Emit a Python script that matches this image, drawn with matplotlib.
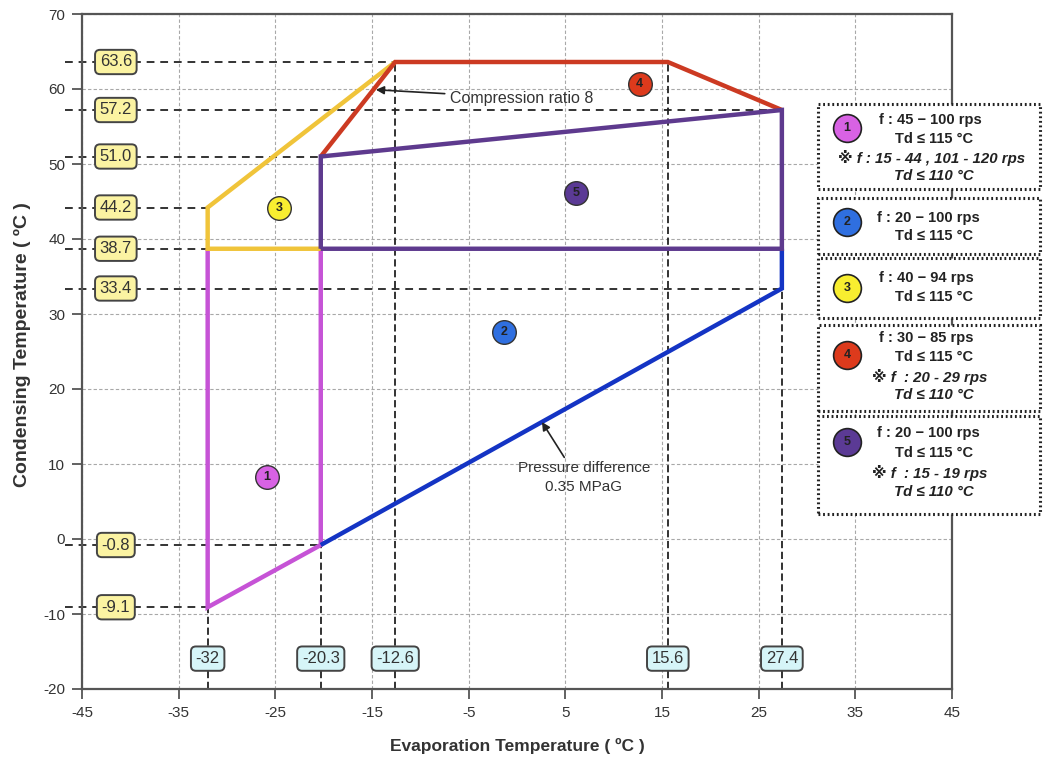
import matplotlib
matplotlib.use('Agg')
import matplotlib.pyplot as plt
from matplotlib.lines import Line2D
from matplotlib.patches import Rectangle

plt.rcParams['font.family'] = ['Liberation Sans', 'DejaVu Sans', 'Noto Sans CJK JP']
plt.rcParams['axes.unicode_minus'] = False

# ---------------- data ----------------
x_ticks = [-45, -35, -25, -15, -5, 5, 15, 25, 35, 45]
y_ticks = [-20, -10, 0, 10, 20, 30, 40, 50, 60, 70]

evap_marks = [-32, -20.3, -12.6, 15.6, 27.4]
evap_mark_labels = ['-32', '-20.3', '-12.6', '15.6', '27.4']
evap_mark_top = [-9.1, -0.8, 63.6, 63.6, 33.4]

cond_marks = [63.6, 57.2, 51.0, 44.2, 38.7, 33.4, -0.8, -9.1]
cond_mark_labels = ['63.6', '57.2', '51.0', '44.2', '38.7', '33.4', '-0.8', '-9.1']
cond_mark_end = [15.6, 27.4, -20.3, -32, -32, 27.4, -20.3, -32]

region1_x = [-32, -32, -20.3, -20.3]
region1_y = [38.7, -9.1, -0.8, 38.7]
region2_x = [-20.3, 27.4, 27.4]
region2_y = [-0.8, 33.4, 38.7]
region3_x = [-12.6, -32, -32, -20.3]
region3_y = [63.6, 44.2, 38.7, 38.7]
region4_x = [-20.3, -12.6, 15.6, 27.4]
region4_y = [51.0, 63.6, 63.6, 57.2]
region5_x = [-20.3, -20.3, 27.4, 27.4, -20.3]
region5_y = [38.7, 51.0, 57.2, 38.7, 38.7]

region_ids = ['1', '2', '3', '4', '5']
region_label_x = [-25.9, -1.3, -24.6, 12.7, 6.1]
region_label_y = [8.3, 27.6, 44.1, 60.7, 46.1]

legend_lines = [
    ['f : 45 − 100 rps', 'Td ≤ 115 °C', '※ f : 15 - 44 , 101 - 120 rps', 'Td ≤ 110 °C'],
    ['f : 20 − 100 rps', 'Td ≤ 115 °C'],
    ['f : 40 − 94 rps', 'Td ≤ 115 °C'],
    ['f : 30 − 85 rps', 'Td ≤ 115 °C', '※ f  : 20 - 29 rps', 'Td ≤ 110 °C'],
    ['f : 20 − 100 rps', 'Td ≤ 115 °C', '※ f  : 15 - 19 rps', 'Td ≤ 110 °C'],
]

# ---------------- styles ----------------
line_colors = ['#C653D6', '#1434C4', '#F0C43A', '#CC3A22', '#5E3A8E']
dot_colors = ['#D862E4', '#2F6FE0', '#F8EE30', '#DD3A1C', '#5B3A95']

W, H = 1043, 764
fig = plt.figure(figsize=(W / 100, H / 100), dpi=100)
ax = fig.add_axes([82 / W, 1 - 689 / H, 870 / W, 675 / H])

def fx(px):
    return px / W

def fy(py):
    return 1 - py / H

ax.set_xlim(-45, 45)
ax.set_ylim(-20, 70)
ax.set_xticks(x_ticks)
ax.set_yticks(y_ticks)
ax.grid(True, color='#a8a8a8', ls=(0, (3, 2)), lw=0.8)
ax.set_axisbelow(True)
ax.tick_params(direction='out', length=7, width=1.3, colors='#555', labelcolor='#333',
               labelsize=11, pad=5)
for sp in ax.spines.values():
    sp.set_color('#555')
    sp.set_linewidth(1.6)

# reference guide lines
for y, xe in zip(cond_marks, cond_mark_end):
    ax.plot([-46.8, xe], [y, y], color='#333', lw=1.4, ls=(0, (4, 3)), clip_on=False, zorder=2)
for x, ye in zip(evap_marks, evap_mark_top):
    ax.plot([x, x], [-20, ye], color='#222', lw=1.3, ls=(0, (4, 2)), zorder=2)

# region outlines
regions = [(region1_x, region1_y), (region2_x, region2_y), (region3_x, region3_y),
           (region4_x, region4_y), (region5_x, region5_y)]
for (xs, ys), c in zip(regions, line_colors):
    ax.plot(xs, ys, color=c, lw=3.2, solid_joinstyle='miter', solid_capstyle='butt', zorder=4)

# region number dots
for rid, x, y, c in zip(region_ids, region_label_x, region_label_y, dot_colors):
    ax.plot([x], [y], marker='o', ms=17, mfc=c, mec='#333', mew=1.0, zorder=6)
    ax.text(x, y, rid, ha='center', va='center', fontsize=9, fontweight='bold', color='#222', zorder=7)

# value labels
for y, lab in zip(cond_marks, cond_mark_labels):
    ax.text(-41.5, y, lab, ha='center', va='center', fontsize=12, color='#333', zorder=8, clip_on=False,
            bbox=dict(boxstyle='round,pad=0.28,rounding_size=0.3', fc='#FBF3A2', ec='#444', lw=1.4))
for x, lab in zip(evap_marks, evap_mark_labels):
    ax.text(x, -15.95, lab, ha='center', va='center', fontsize=12, color='#333', zorder=8,
            bbox=dict(boxstyle='round,pad=0.28,rounding_size=0.3', fc='#D6F5F8', ec='#444', lw=1.4))

# annotations
ax.annotate('Compression ratio 8', xy=(-14.6, 59.9), xytext=(-6.9, 58.8), ha='left', va='center',
            fontsize=11.5, color='#333', zorder=9,
            arrowprops=dict(arrowstyle='-|>', color='#222', lw=1.2, mutation_scale=12, shrinkA=2, shrinkB=0))
ax.annotate('Pressure difference\n0.35 MPaG', xy=(2.58, 15.6), xytext=(6.93, 8.2), ha='center', va='center',
            fontsize=11, color='#333', linespacing=1.4, zorder=9,
            arrowprops=dict(arrowstyle='-|>', color='#222', lw=1.2, mutation_scale=12, shrinkA=1, shrinkB=0,
                            relpos=(0.37, 1.0)))

# axis titles
fig.text(fx(517), fy(746), 'Evaporation Temperature ( ºC )', ha='center', va='center',
         fontsize=12.5, fontweight='bold', color='#333')
fig.text(fx(22), fy(345), 'Condensing Temperature ( ºC )', ha='center', va='center', rotation=90,
         fontsize=14, fontweight='bold', color='#333')

# legend boxes (figure pixel layout)
box_tops = [104, 198, 258, 325, 416]
box_bottoms = [189, 254, 318, 411, 514]
circle_py = [128, 222, 288, 355, 442]
line_py = [[120, 139, 158, 176], [218, 236], [278, 297], [338, 357, 377, 395], [433, 453, 473, 492]]
line_px = [[930, 934, 932, 934], [928, 934], [926, 934], [926, 934, 930, 934], [928, 934, 930, 934]]

for i in range(5):
    rect = Rectangle((fx(818), fy(box_bottoms[i])), fx(1040) - fx(818), fy(box_tops[i]) - fy(box_bottoms[i]),
                     transform=fig.transFigure, fc='white', ec='#222', lw=2.2, ls=(0, (0.6, 0.9)), zorder=10)
    fig.add_artist(rect)
    fig.add_artist(Line2D([fx(847)], [fy(circle_py[i])], marker='o', ms=20, mfc=dot_colors[i], mec='#222',
                          mew=1.2, transform=fig.transFigure, zorder=11))
    fig.text(fx(847), fy(circle_py[i]), region_ids[i], ha='center', va='center', fontsize=9,
             fontweight='bold', color='#222', zorder=12)
    for j, t in enumerate(legend_lines[i]):
        ital = 'italic' if j >= 2 else 'normal'
        fs = 10.8 if j >= 2 else 10.5
        fig.text(fx(line_px[i][j]), fy(line_py[i][j]), t, ha='center', va='center', fontsize=fs,
                 fontweight='bold', fontstyle=ital, color='#222', zorder=12)

fig.savefig('out.png', dpi=100)
